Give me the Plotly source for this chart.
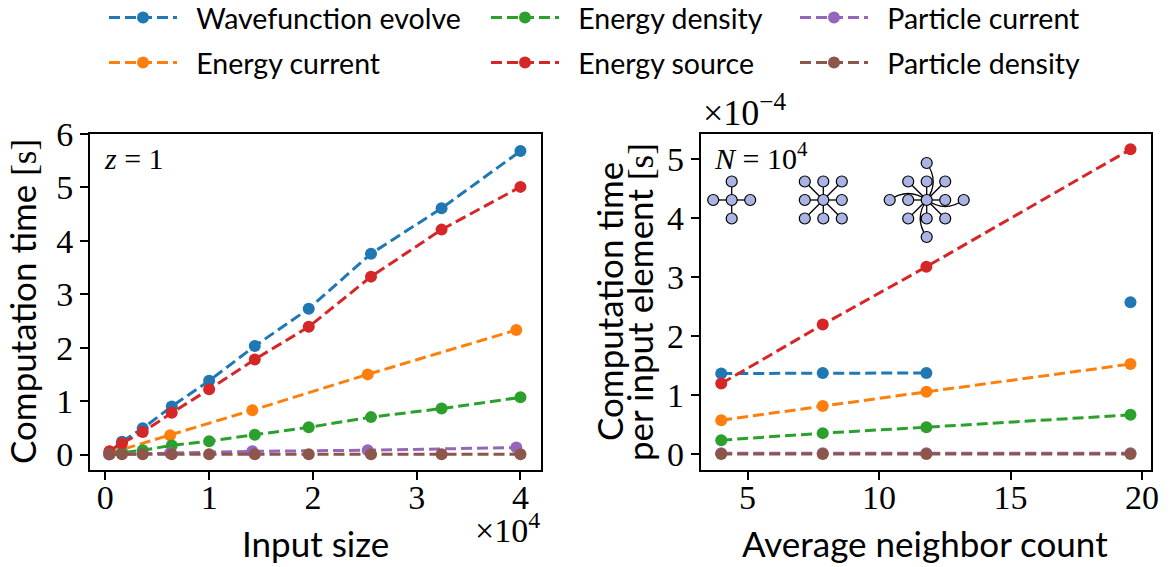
import plotly.graph_objects as go

W, H = 1173, 567

def px(x):
    return x / W

def py(y):
    return 1 - y / H

# ---------------- data ----------------
names = ["Wavefunction evolve", "Energy current", "Energy density",
         "Energy source", "Particle current", "Particle density"]
colors = ["#1f77b4", "#ff7f0e", "#2ca02c", "#d62728", "#9467bd", "#8c564b"]

# left panel: input size (lattice sites) vs computation time [s]
size_sites = [400, 1600, 3600, 6400, 10000, 14400, 19600, 25600, 32400, 40000]
size_bonds = [361, 6241, 14161, 25281, 39601]

t_wavefunction = [0.05, 0.24, 0.49, 0.90, 1.38, 2.03, 2.73, 3.76, 4.61, 5.68]
t_energy_current = [0.02, 0.36, 0.83, 1.50, 2.33]
t_energy_density = [0.01, 0.04, 0.08, 0.17, 0.25, 0.37, 0.51, 0.70, 0.86, 1.07]
t_energy_source = [0.06, 0.21, 0.42, 0.78, 1.22, 1.78, 2.39, 3.33, 4.21, 5.01]
t_particle_current = [0.00, 0.03, 0.06, 0.08, 0.13]
t_particle_density = [0.003, 0.003, 0.003, 0.004, 0.004, 0.004, 0.005, 0.005, 0.005, 0.006]

# right panel: average neighbor count vs time per input element [s]
neighbors = [4.0, 7.86, 11.8, 19.56]
e_wavefunction = [1.37e-4, 1.38e-4, 1.38e-4]
e_wavefunction_extra = [2.58e-4]
e_energy_current = [0.58e-4, 0.82e-4, 1.06e-4, 1.53e-4]
e_energy_density = [0.24e-4, 0.36e-4, 0.46e-4, 0.67e-4]
e_energy_source = [1.20e-4, 2.20e-4, 3.18e-4, 5.17e-4]
e_particle_current = [0.02e-4, 0.02e-4, 0.02e-4, 0.02e-4]
e_particle_density = [0.005e-4, 0.005e-4, 0.005e-4, 0.005e-4]

left_x_ticks = [0, 10000, 20000, 30000, 40000]
left_x_labels = ["0", "1", "2", "3", "4"]
left_y_ticks = [0, 1, 2, 3, 4, 5, 6]
right_x_ticks = [5, 10, 15, 20]
right_y_ticks = [0, 1e-4, 2e-4, 3e-4, 4e-4, 5e-4]
right_y_labels = ["0", "1", "2", "3", "4", "5"]

left_series = [
    (size_sites, t_wavefunction),
    (size_bonds, t_energy_current),
    (size_sites, t_energy_density),
    (size_sites, t_energy_source),
    (size_bonds, t_particle_current),
    (size_sites, t_particle_density),
]
right_series = [
    e_wavefunction, e_energy_current, e_energy_density,
    e_energy_source, e_particle_current, e_particle_density,
]

SANS = "Lato"
SERIF = "Liberation Serif"
DASH = "11px,5px"
LW = 3
MS = 12
TITLE_SIZE = 35
LEG_SIZE = 28.5
TICK_SIZE = 34

fig = go.Figure()
legend_ids = ["legend", "legend2", "legend3", "legend4", "legend5", "legend6"]

for i, (nm, col) in enumerate(zip(names, colors)):
    xs, ys = left_series[i]
    fig.add_trace(go.Scatter(
        x=xs, y=ys, mode="lines+markers", name="\u2002" + nm,
        line=dict(color=col, width=LW, dash=DASH),
        marker=dict(color=col, size=MS),
        xaxis="x", yaxis="y", legend=legend_ids[i], showlegend=True))

for i, (nm, col) in enumerate(zip(names, colors)):
    ys = right_series[i]
    fig.add_trace(go.Scatter(
        x=neighbors[:len(ys)], y=ys, mode="lines+markers", name=nm,
        line=dict(color=col, width=LW, dash=DASH),
        marker=dict(color=col, size=MS),
        xaxis="x2", yaxis="y2", showlegend=False))
    if i == 0:
        fig.add_trace(go.Scatter(
            x=neighbors[3:], y=e_wavefunction_extra, mode="markers", name=nm,
            marker=dict(color=col, size=MS),
            xaxis="x2", yaxis="y2", showlegend=False))

axis_common = dict(
    showline=True, linewidth=2, linecolor="black", mirror=True,
    ticks="outside", ticklen=8, tickwidth=2, tickcolor="black",
    showgrid=False, zeroline=False, automargin=False,
    tickfont=dict(family=SERIF, size=TICK_SIZE, color="black"),
)
xaxis_extra = dict(ticklabelstandoff=-12)

fig.update_layout(
    width=W, height=H,
    margin=dict(l=0, r=0, t=0, b=0, autoexpand=False),
    paper_bgcolor="white", plot_bgcolor="white",
    xaxis=dict(domain=[px(90), px(541)], range=[-1480, 41980],
               tickvals=left_x_ticks, ticktext=left_x_labels, anchor="y",
               **axis_common, **xaxis_extra),
    yaxis=dict(domain=[py(470), py(134)], range=[-0.29, 6.0],
               tickvals=left_y_ticks, anchor="x", **axis_common),
    xaxis2=dict(domain=[px(700.7), px(1151)], range=[3.22, 20.34],
                tickvals=right_x_ticks, anchor="y2", **axis_common, **xaxis_extra),
    yaxis2=dict(domain=[py(470), py(134)], range=[-0.265e-4, 5.43e-4],
                tickvals=right_y_ticks, ticktext=right_y_labels, anchor="x2", **axis_common),
)

# legends: 3 columns x 2 rows (column-major order)
leg_cols = [108, 490, 799]
leg_rows = [18, 63]
for i, lid in enumerate(legend_ids):
    c, r = i // 2, i % 2
    fig.update_layout(**{lid: dict(
        x=px(leg_cols[c] - 4), y=py(leg_rows[r]), xanchor="left", yanchor="middle",
        xref="container", yref="container",
        font=dict(family=SANS, size=LEG_SIZE, color="black"),
        bgcolor="rgba(0,0,0,0)", itemwidth=68,
    )})

def note(text, x, y, family, size, xanchor="center", yanchor="middle", angle=0):
    return dict(text=text, x=px(x), y=py(y), xref="paper", yref="paper",
                xanchor=xanchor, yanchor=yanchor, textangle=angle, showarrow=False,
                font=dict(family=family, size=size, color="black"))

unit = "<span style='font-family:Liberation Serif'>[s]</span>"
ann = [
    note("Computation time " + unit, 22, 302, SANS, TITLE_SIZE, angle=-90),
    note("Computation time", 609, 302, SANS, TITLE_SIZE, angle=-90),
    note("per input element " + unit, 639, 302, SANS, TITLE_SIZE, angle=-90),
    note("Input size", 315, 543, SANS, TITLE_SIZE),
    note("Average neighbor count", 925, 543, SANS, TITLE_SIZE),
    note("×10<sup>4</sup>", 542, 528, SERIF, 34, xanchor="right"),
    note("×10<sup>−4</sup>", 701, 110, SERIF, 36, xanchor="left"),
    note("<i>z</i> = 1", 102, 158, SERIF, 30, xanchor="left"),
    note("<i>N</i> = 10<sup>4</sup>", 712, 156, SERIF, 30, xanchor="left"),
]
fig.update_layout(annotations=ann)

# ---------------- neighbor-graph icons (decorative) ----------------
NODE_R = 5.5
NODE_FILL = "#aab3e3"
shapes = []

def seg(x0, y0, x1, y1):
    shapes.append(dict(type="line", xref="paper", yref="paper",
                       x0=px(x0), y0=py(y0), x1=px(x1), y1=py(y1),
                       line=dict(color="black", width=1.3), layer="above"))

def curve(x0, y0, cx, cy, x1, y1):
    path = f"M {px(x0)},{py(y0)} Q {px(cx)},{py(cy)} {px(x1)},{py(y1)}"
    shapes.append(dict(type="path", xref="paper", yref="paper", path=path,
                       line=dict(color="black", width=1.3), layer="above"))

nodes = []

def node(x, y):
    nodes.append(dict(type="circle", xref="paper", yref="paper",
                      x0=px(x - NODE_R), x1=px(x + NODE_R),
                      y0=py(y + NODE_R), y1=py(y - NODE_R),
                      fillcolor=NODE_FILL, line=dict(color="black", width=1.2),
                      layer="above"))

d = 18.5
cy0 = 200
# icon 1: 4 neighbours
c1 = 731.7
for dx, dy in [(-d, 0), (d, 0), (0, -d), (0, d)]:
    seg(c1, cy0, c1 + dx, cy0 + dy)
    node(c1 + dx, cy0 + dy)
node(c1, cy0)
# icon 2: 8 neighbours
c2 = 823.3
for dx in (-d, 0, d):
    for dy in (-d, 0, d):
        if dx == 0 and dy == 0:
            continue
        seg(c2, cy0, c2 + dx, cy0 + dy)
        node(c2 + dx, cy0 + dy)
node(c2, cy0)
# icon 3: 12 neighbours
c3 = 926.7
for dx in (-d, 0, d):
    for dy in (-d, 0, d):
        if dx == 0 and dy == 0:
            continue
        seg(c3, cy0, c3 + dx, cy0 + dy)
        node(c3 + dx, cy0 + dy)
D = 2 * d
curve(c3, cy0, c3 - d, cy0 - 13, c3 - D, cy0)
curve(c3, cy0, c3 + d, cy0 + 13, c3 + D, cy0)
curve(c3, cy0, c3 + 13, cy0 - d, c3, cy0 - D)
curve(c3, cy0, c3 - 13, cy0 + d, c3, cy0 + D)
for dx, dy in [(-D, 0), (D, 0), (0, -D), (0, D)]:
    node(c3 + dx, cy0 + dy)
node(c3, cy0)

fig.update_layout(shapes=shapes + nodes)

fig.write_html("out.html", config={"displayModeBar": False},
               post_script="document.body.style.margin='0';document.body.style.overflow='hidden';")
